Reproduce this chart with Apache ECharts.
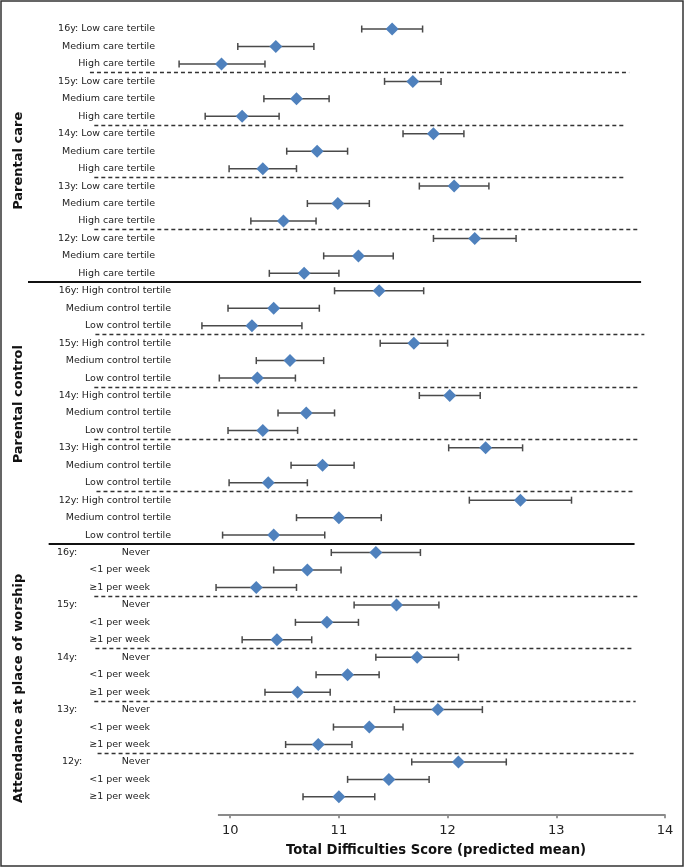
<!DOCTYPE html>
<html><head><meta charset="utf-8">
<script src="https://cdn.jsdelivr.net/npm/echarts@6/dist/echarts.min.js"></script>
<style>html,body{margin:0;padding:0;background:#fff}#c{width:685px;height:868px}</style>
</head><body><div id="c"></div>
<script>
// ---------- data ----------
const careLabels = [
  '16y: Low care tertile','Medium care tertile','High care tertile',
  '15y: Low care tertile','Medium care tertile','High care tertile',
  '14y: Low care tertile','Medium care tertile','High care tertile',
  '13y: Low care tertile','Medium care tertile','High care tertile',
  '12y: Low care tertile','Medium care tertile','High care tertile'
];
const careMean = [11.49,10.42,9.92, 11.68,10.61,10.11, 11.87,10.80,10.30, 12.06,10.99,10.49, 12.25,11.18,10.68];
const careLow  = [11.21,10.07,9.53, 11.42,10.31,9.77,  11.59,10.52,9.99,  11.74,10.71,10.19, 11.87,10.86,10.36];
const careHigh = [11.77,10.77,10.32,11.94,10.91,10.45, 12.15,11.08,10.61, 12.38,11.28,10.79, 12.63,11.50,11.00];

const controlLabels = [
  '16y: High control tertile','Medium control tertile','Low control tertile',
  '15y: High control tertile','Medium control tertile','Low control tertile',
  '14y: High control tertile','Medium control tertile','Low control tertile',
  '13y: High control tertile','Medium control tertile','Low control tertile',
  '12y: High control tertile','Medium control tertile','Low control tertile'
];
const controlMean = [11.37,10.40,10.20, 11.69,10.55,10.25, 12.02,10.70,10.30, 12.35,10.85,10.35, 12.67,11.00,10.40];
const controlLow  = [10.96,9.98,9.74,   11.38,10.24,9.90,  11.74,10.44,9.98,  12.01,10.56,9.99,  12.20,10.61,9.93];
const controlHigh = [11.78,10.82,10.66, 12.00,10.86,10.60, 12.30,10.96,10.62, 12.69,11.14,10.71, 13.14,11.39,10.87];

const worshipYears = ['16y:','15y:','14y:','13y:','12y:'];
const worshipLabels = [
  'Never','<1 per week','\u22651 per week',
  'Never','<1 per week','\u22651 per week',
  'Never','<1 per week','\u22651 per week',
  'Never','<1 per week','\u22651 per week',
  'Never','<1 per week','\u22651 per week'
];
const worshipMean = [11.34,10.71,10.24, 11.53,10.89,10.43, 11.72,11.08,10.62, 11.91,11.28,10.81, 12.10,11.46,11.00];
const worshipLow  = [10.93,10.40,9.87,  11.14,10.60,10.11, 11.34,10.79,10.32, 11.51,10.95,10.51, 11.67,11.08,10.67];
const worshipHigh = [11.75,11.02,10.61, 11.92,11.18,10.75, 12.10,11.37,10.92, 12.32,11.59,11.12, 12.54,11.83,11.33];

const sectionNames = ['Parental care','Parental control','Attendance at place of worship'];
const xTicks = [10,11,12,13,14];
const axisTitle = 'Total Difficulties Score (predicted mean)';

// ---------- assembly ----------
const rowLabels = careLabels.concat(controlLabels, worshipLabels);
const means = careMean.concat(controlMean, worshipMean);
const lows = careLow.concat(controlLow, worshipLow);
const highs = careHigh.concat(controlHigh, worshipHigh);
const rowIdx = rowLabels.map((_, i) => i);
const yearRows = worshipYears.map((_, k) => 30 + 3 * k);

const FONT = 'DejaVu Sans';
const labelColor = '#222';

// separator lines (row position, x extent in axis units)
const dashStyle = {type: [4, 3], color: '#333', width: 1.3};
const solidStyle = {type: 'solid', color: '#111', width: 2};
const separators = [
  {row: 2.5, x1: 8.71, x2: 13.67, s: dashStyle},
  {row: 5.5, x1: 8.75, x2: 13.64, s: dashStyle},
  {row: 8.5, x1: 8.75, x2: 13.64, s: dashStyle},
  {row: 11.5, x1: 8.75, x2: 13.745, s: dashStyle},
  {row: 14.5, x1: 8.14, x2: 13.78, s: solidStyle},
  {row: 17.5, x1: 8.76, x2: 13.81, s: dashStyle},
  {row: 20.5, x1: 8.75, x2: 13.77, s: dashStyle},
  {row: 23.5, x1: 8.75, x2: 13.76, s: dashStyle},
  {row: 26.5, x1: 8.77, x2: 13.72, s: dashStyle},
  {row: 29.5, x1: 8.33, x2: 13.72, s: solidStyle},
  {row: 32.5, x1: 8.75, x2: 13.75, s: dashStyle},
  {row: 35.5, x1: 8.76, x2: 13.715, s: dashStyle},
  {row: 38.5, x1: 8.75, x2: 13.73, s: dashStyle},
  {row: 41.5, x1: 8.78, x2: 13.72, s: dashStyle}
];
const axisRow = 45;
const axisStart = 9.887;

const chart = echarts.init(document.getElementById('c'), null, {renderer: 'canvas'});

const markData = separators.map(s => [
  {coord: [s.x1, s.row], lineStyle: s.s},
  {coord: [s.x2, s.row]}
]);
markData.push([
  {coord: [axisStart, axisRow], lineStyle: {type: 'solid', color: '#8a8a8a', width: 2}},
  {coord: [xTicks[xTicks.length - 1], axisRow]}
]);

const option = {
  animation: false,
  backgroundColor: '#fff',
  grid: {left: 28, right: 20, top: 20.3, bottom: 53.7, containLabel: false},
  xAxis: {
    type: 'value', min: 8.14, max: 14, position: 'bottom',
    axisLine: {show: false, onZero: false},
    splitLine: {show: false},
    axisTick: {show: true, customValues: xTicks, length: 4, lineStyle: {color: '#777', width: 1.5}},
    axisLabel: {customValues: xTicks, margin: 10, fontFamily: FONT, fontSize: 13, color: '#222'},
    name: axisTitle, nameLocation: 'middle', nameGap: 30,
    nameTextStyle: {fontFamily: FONT, fontSize: 13.2, fontWeight: 'bold', color: '#111', padding: [0, 0, 0, 179]}
  },
  yAxis: [
    {
      type: 'value', inverse: true, min: -0.5, max: 45,
      position: 'left',
      axisLine: {show: false, onZero: false}, axisTick: {show: false}, splitLine: {show: false},
      axisLabel: {
        inside: true, align: 'right', margin: 143,
        customValues: rowIdx,
        fontFamily: FONT, fontSize: 9.5, color: labelColor,
        formatter: v => {
          const i = Math.round(v);
          const s = Math.floor(i / 15);
          return '{s' + s + '|' + rowLabels[i] + '}';
        },
        rich: {
          s0: {fontFamily: FONT, fontSize: 9.5, color: labelColor, padding: [0, 16, 0, 0]},
          s1: {fontFamily: FONT, fontSize: 9.5, color: labelColor, padding: [0, 0, 0, 0]},
          s2: {fontFamily: FONT, fontSize: 9.5, color: labelColor, padding: [0, 21, 0, 0]}
        }
      }
    },
    {
      type: 'value', inverse: true, min: -0.5, max: 45,
      position: 'left', offset: 0,
      axisLine: {show: false, onZero: false}, axisTick: {show: false}, splitLine: {show: false},
      axisLabel: {
        inside: true, align: 'left', margin: 29,
        customValues: yearRows,
        fontFamily: FONT, fontSize: 9.5, color: labelColor,
        formatter: v => {
          const k = Math.round((v - 30) / 3);
          return (k === 4 ? '{p|' : '{n|') + worshipYears[k] + '}';
        },
        rich: {
          n: {fontFamily: FONT, fontSize: 9.5, color: labelColor},
          p: {fontFamily: FONT, fontSize: 9.5, color: labelColor, padding: [0, 0, 0, 5]}
        }
      }
    }
  ],
  series: [
    {
      type: 'custom',
      name: 'CI',
      xAxisIndex: 0, yAxisIndex: 0,
      data: rowIdx.map(i => [lows[i], highs[i], i]),
      encode: {x: [0, 1], y: 2},
      z: 2,
      silent: true,
      renderItem: (params, api) => {
        const a = api.coord([api.value(0), api.value(2)]);
        const b = api.coord([api.value(1), api.value(2)]);
        const h = 3.5;
        const st = {stroke: '#4a4a4a', lineWidth: 1.5};
        return {
          type: 'group',
          children: [
            {type: 'line', shape: {x1: a[0], y1: a[1], x2: b[0], y2: b[1]}, style: st},
            {type: 'line', shape: {x1: a[0], y1: a[1] - h, x2: a[0], y2: a[1] + h}, style: st},
            {type: 'line', shape: {x1: b[0], y1: b[1] - h, x2: b[0], y2: b[1] + h}, style: st}
          ]
        };
      }
    },
    {
      type: 'scatter',
      name: 'Predicted mean',
      xAxisIndex: 0, yAxisIndex: 0,
      data: rowIdx.map(i => [means[i], i]),
      symbol: 'diamond',
      symbolSize: 13,
      itemStyle: {color: '#4F81BD', opacity: 1},
      z: 3,
      silent: true,
      markLine: {
        silent: true,
        symbol: ['none', 'none'],
        label: {show: false},
        emphasis: {disabled: true},
        data: markData
      }
    }
  ]
};
chart.setOption(option);

// section titles, centred on their rows via the y axis scale
const sectionCentres = [7.55, 21.5, 37.78];
chart.setOption({
  graphic: [
    {type: 'rect', shape: {x: 1, y: 1, width: 682, height: 865}, style: {fill: 'none', stroke: '#333', lineWidth: 1.5}, silent: true}
  ].concat(sectionNames.map((name, k) => {
    const y = chart.convertToPixel({yAxisIndex: 0}, sectionCentres[k]);
    return {
      type: 'text', x: 19, y: y, rotation: Math.PI / 2, silent: true,
      style: {text: name, font: 'bold 13px "DejaVu Sans"', fill: '#111', textAlign: 'center', textVerticalAlign: 'middle'}
    };
  }))
});
</script>
</body></html>
